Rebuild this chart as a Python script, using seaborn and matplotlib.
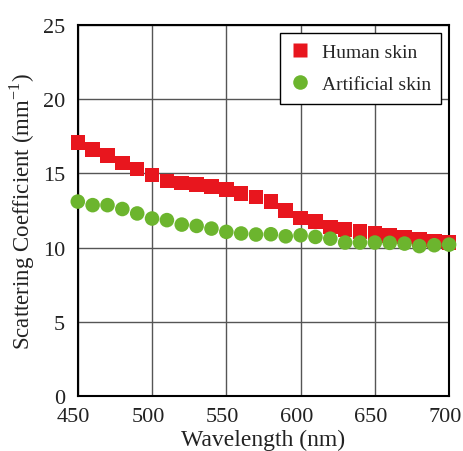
import matplotlib
matplotlib.use("Agg")
import matplotlib.pyplot as plt
import matplotlib.transforms as mtransforms
import seaborn as sns
import pandas as pd

wavelength = [450, 460, 470, 480, 490, 500, 510, 520, 530, 540, 550, 560, 570,
              580, 590, 600, 610, 620, 630, 640, 650, 660, 670, 680, 690, 700]
human_skin = [17.1, 16.6, 16.2, 15.7, 15.3, 14.9, 14.5, 14.35, 14.25, 14.1, 13.9, 13.65, 13.4,
              13.1, 12.5, 12.0, 11.75, 11.4, 11.2, 11.1, 10.95, 10.8, 10.7, 10.55, 10.45, 10.35]
artificial_skin = [13.1, 12.86, 12.86, 12.6, 12.3, 11.96, 11.85, 11.55, 11.46, 11.28, 11.06, 10.95, 10.88,
                   10.9, 10.76, 10.83, 10.72, 10.6, 10.34, 10.34, 10.34, 10.32, 10.27, 10.1, 10.16, 10.2]
series_names = ["Human skin", "Artificial skin"]
x_ticks = [450, 500, 550, 600, 650, 700]
y_ticks = [0, 5, 10, 15, 20, 25]

df = pd.DataFrame({
    "Wavelength": wavelength * 2,
    "Value": human_skin + artificial_skin,
    "Sample": [series_names[0]] * len(wavelength) + [series_names[1]] * len(wavelength),
})

sns.set_style("white")
plt.rcParams['font.family'] = ['Liberation Serif', 'DejaVu Serif']
plt.rcParams['mathtext.fontset'] = 'custom'
plt.rcParams['mathtext.rm'] = 'Liberation Serif'

fig = plt.figure(figsize=(4.63, 4.52), dpi=100)
ax = fig.add_axes([0.168, 0.1217, 0.802, 0.8208])

palette = {series_names[0]: "#E8161E", series_names[1]: "#6CB52E"}
markers = {series_names[0]: "s", series_names[1]: "o"}
sns.scatterplot(data=df, x="Wavelength", y="Value", hue="Sample", style="Sample",
                palette=palette, markers=markers, s=110, edgecolor="none",
                ax=ax, zorder=3, clip_on=False)

ax.set_xlim(450, 700)
ax.set_ylim(0, 25)
ax.set_xticks(x_ticks)
ax.set_yticks(y_ticks)
ax.tick_params(axis='both', length=0, labelsize=16, colors='#222222')
ax.tick_params(axis='x', pad=8)
ax.tick_params(axis='y', pad=9)
shift = mtransforms.ScaledTranslation(-4 / 100, 0, fig.dpi_scale_trans)
for lab in ax.get_xticklabels():
    lab.set_transform(lab.get_transform() + shift)
ax.grid(True, color='#555555', linewidth=1.0)
ax.set_axisbelow(True)
for sp in ax.spines.values():
    sp.set_color('black')
    sp.set_linewidth(1.5)

ax.set_xlabel("Wavelength (nm)", fontsize=17, labelpad=2, color='#222222')
ax.set_ylabel("Scattering Coefficient (mm$^{-1}$)", fontsize=16.5, labelpad=4, color='#222222')

leg = ax.legend(loc='upper right', fontsize=14, frameon=True, fancybox=False,
                edgecolor='black', framealpha=1, borderaxespad=0.4,
                handlelength=1.0, handletextpad=0.6, labelspacing=0.75,
                borderpad=0.55, markerscale=1.0)
leg.get_frame().set_linewidth(1.0)
leg.set_title(None)

fig.savefig("out.png", dpi=100)
